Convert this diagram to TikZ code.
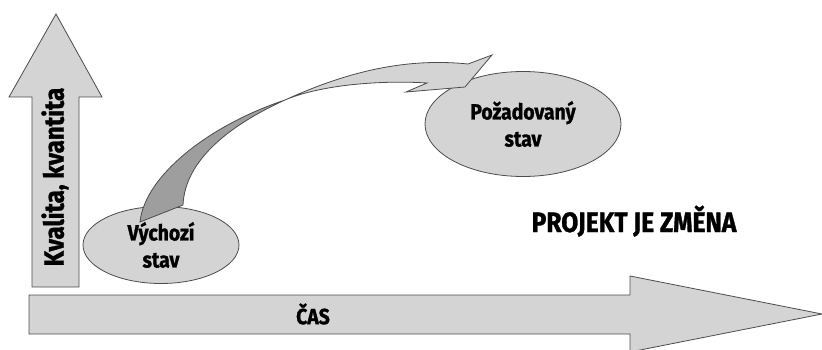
\documentclass[tikz,border=0pt]{standalone}
\usepackage{fontspec}
\setmainfont{Fira Sans}[FakeStretch=0.88,BoldFeatures={FakeBold=1.2}]
\usetikzlibrary{shapes.geometric}
\begin{document}
\begin{tikzpicture}[x=1pt,y=-1pt,
	stavnode/.style={ellipse,draw=black!70,fill=black!17,line width=0.8pt,inner sep=0pt,align=center,font=\fontsize{22}{27}\selectfont\bfseries},
	bigarrow/.style={draw=black!70,fill=black!17,line width=0.8pt},
	labeltext/.style={font=\fontsize{22}{27}\selectfont\bfseries}
	]
	\useasboundingbox (0,0) rectangle (822,350);
	% big arrows
	\draw[bigarrow] (32,287) -- (32,97) -- (9,97) -- (56,14) -- (102,97) -- (79,97) -- (79,287) -- cycle;
	\draw[bigarrow] (29,295) -- (630,295) -- (630,276) -- (822,314) -- (630,352) -- (630,334) -- (29,334) -- cycle;
	\path
	+(55,177)  node[labeltext,rotate=90,font=\fontsize{27.5}{30}\selectfont\bfseries]  (kval) {Kvalita, kvantita}
	+(313,314)  node[labeltext]  (cas) {ČAS}
	+(161,245)  node[stavnode,minimum width=156,minimum height=77]  (vychozi) {Výchozí\\stav}
	+(523,124)  node[stavnode,minimum width=196,minimum height=105]  (pozad) {Požadovaný\\stav}
	+(634,232)  node[anchor=base,font=\fontsize{28}{30}\selectfont\bfseries]  (projekt) {PROJEKT JE ZMĚNA}
	;
	% twisted arrow
	\coordinate (twist) at (285,100);
	\draw[draw=black!70,fill=black!38,line width=0.8pt] (140,222) .. controls (145,175) and (210,125) .. (twist)
		.. controls (230,125) and (185,160) .. (183,205) -- cycle;
	\draw[draw=black!70,fill=black!17,line width=0.8pt] (twist) .. controls (340,75) and (400,57) .. (468,64)
		-- (492,55) -- (465,87) -- (406,92) -- (427,83) .. controls (380,80) and (320,85) .. (twist) -- cycle;
	\end{tikzpicture}
\end{document}
